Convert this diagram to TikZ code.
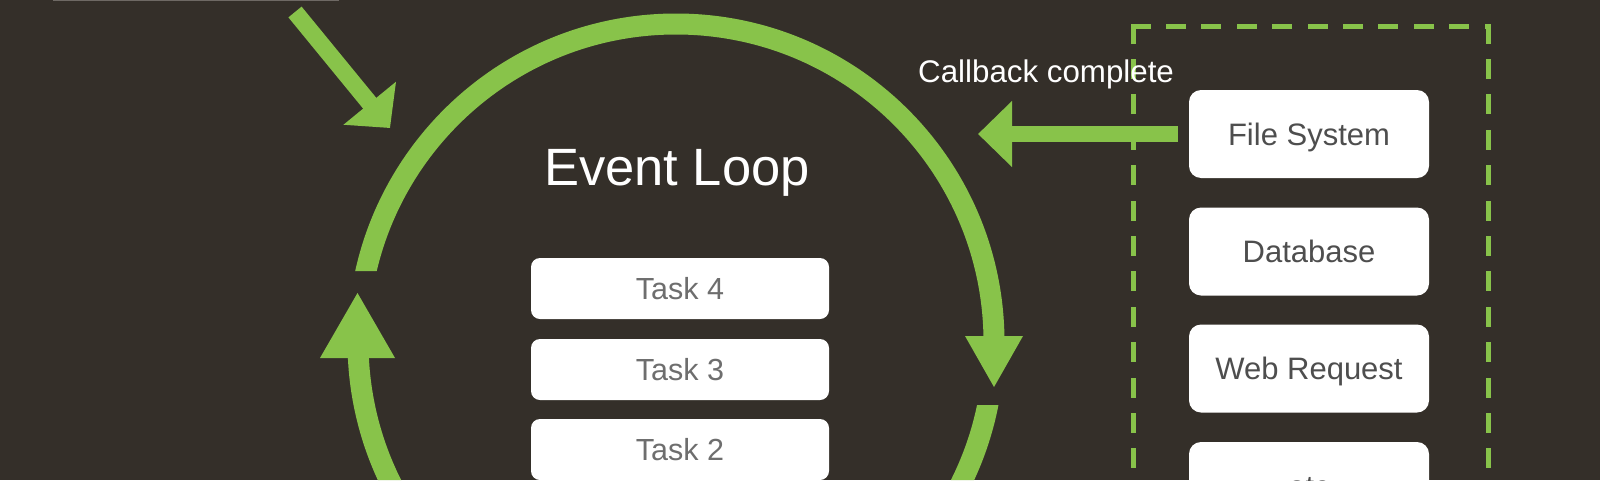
\documentclass[tikz,border=0pt]{standalone}
\usepackage{fontspec}
\setmainfont{Liberation Sans}
\usetikzlibrary{arrows.meta}
\definecolor{bg}{RGB}{52,47,41}
\definecolor{lgreen}{RGB}{136,195,74}
\definecolor{tasktxt}{RGB}{110,110,110}
\definecolor{boxtxt}{RGB}{78,78,78}
\definecolor{edgegray}{RGB}{110,105,100}
\begin{document}
\begin{tikzpicture}[x=1pt,y=-1pt,
  taskbox/.style={draw=none, fill=white, rounded corners=9pt, minimum width=298pt, minimum height=61pt, text height=21.5pt, text depth=0pt, inner sep=0pt, font=\fontsize{30.5}{36}\selectfont, text=tasktxt},
  svcbox/.style={draw=none, fill=white, rounded corners=12pt, minimum width=240pt, minimum height=88pt, text height=22pt, text depth=0pt, inner sep=0pt, font=\fontsize{31}{37}\selectfont, text=boxtxt},
  ring/.style={draw=lgreen, line width=21pt},
  flow/.style={draw=lgreen, line width=16pt, -{Triangle[length=34pt,width=64pt]}},
  headfill/.style={fill=lgreen, draw=none},
  dashedge/.style={draw=lgreen, line width=5pt, line cap=rect, dash pattern=on 15pt off 20.4pt},
  whitetext/.style={text=white, inner sep=0pt}
]
\useasboundingbox (0,0) rectangle (1600,480);
\fill[bg] (0,0) rectangle (1600,480);

% cut-off source box at the top left
\node[draw=edgegray, line width=1.5pt, fill=bg, minimum width=284pt, minimum height=40pt, anchor=south west, inner sep=0pt] (src) at (53,1) {};

% event loop ring
\coordinate (loopc) at (676,342);
\begin{scope}
  \clip (0,0) rectangle (1600,271) (0,405) rectangle (1600,480)
        (0,358) rectangle (676,405) (676,271) rectangle (1600,336);
  \draw[ring] (loopc) circle[radius=318pt];
\end{scope}
\fill[headfill] (965,336) -- (1023,336) -- (994,387) -- cycle;
\fill[headfill] (320,358) -- (395,358) -- (357.5,293) -- cycle;

% incoming arrow
\coordinate (dstart) at (295,12);
\coordinate (dtip) at (390,128);
\draw[flow, line width=17pt, -{Triangle[length=32pt,width=66pt]}] (dstart) -- (dtip);

% title and tasks
\node[whitetext, font=\fontsize{52.5}{62}\selectfont, anchor=base] (title) at (677,185) {Event Loop};
\node[taskbox] (t4) at (680,288.5) {Task 4};
\node[taskbox] (t3) at (680,369.5) {Task 3};
\node[taskbox] (t2) at (680,449.5) {Task 2};

% dashed region
\coordinate (dtl) at (1133,26);
\coordinate (dtr) at (1488,26);
\coordinate (dbl) at (1133,500);
\coordinate (dbr) at (1488,500);
\draw[dashedge] (dtl) -- (dtr);
\draw[dashedge] (dtl) -- (dbl);
\draw[dashedge] (dtr) -- (dbr);

% services
\node[svcbox] (fs) at (1309,134) {File System};
\node[svcbox] (db) at (1309,251.5) {Database};
\node[svcbox] (web) at (1309,368.5) {Web Request};
\node[svcbox] (etc) at (1309,486) {etc};

% callback
\node[whitetext, font=\fontsize{31.3}{37}\selectfont, anchor=base west] (cb) at (918,82) {Callback complete};
\coordinate (cbtip) at (978,134);
\draw[flow] ([xshift=-11pt]fs.west) -- (cbtip);
\end{tikzpicture}
\end{document}
